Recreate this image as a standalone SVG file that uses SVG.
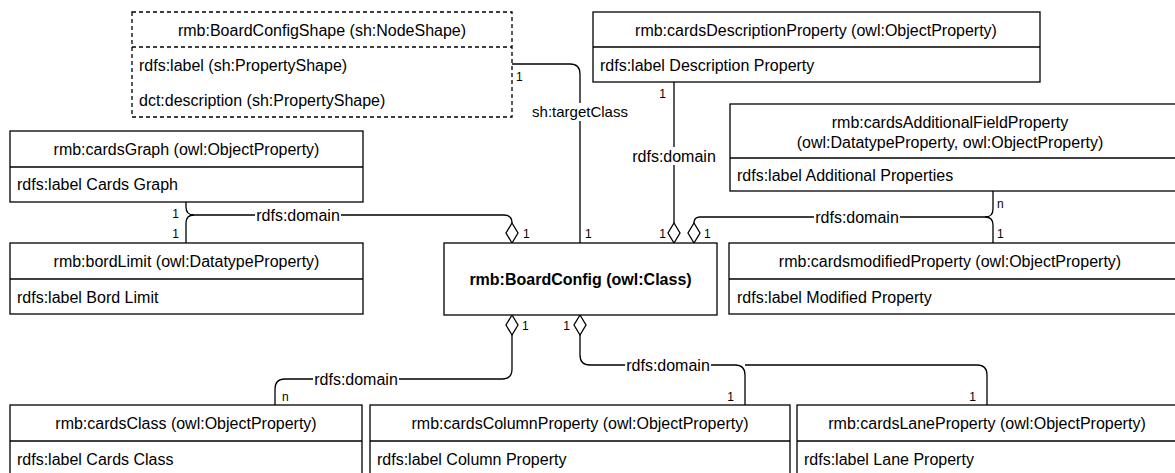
<svg xmlns="http://www.w3.org/2000/svg" width="1175" height="473" viewBox="0 0 1175 473">
<style>
text{font-family:"Liberation Sans",Arial,Helvetica,sans-serif;font-size:16px;fill:#000}
.c{text-anchor:middle}
.b{font-weight:bold}
.box{fill:#fff;stroke:#000;stroke-width:1.3}
.dash{fill:#fff;stroke:#000;stroke-width:1.3;stroke-dasharray:4 3}
.ln{fill:none;stroke:#000;stroke-width:1.3}
.edge{fill:none;stroke:#000;stroke-width:1.3}
.dia{fill:#fff;stroke:#000;stroke-width:1.3}
.bg{fill:#fff}
.m{font-size:12px}
.e{text-anchor:end}
</style>
<rect width="1175" height="473" fill="#fff"/>
<g id="connectors">
<path class="edge" d="M512,64 H570 Q580,64 580,74 V243"/>
<path class="edge" d="M674,82 V223"/>
<path class="edge" d="M186,202 V207 Q186,215 194,215 H504 Q512,215 512,223"/>
<path class="edge" d="M186,243 V223 Q186,215 194,215"/>
<path class="edge" d="M993,191 V209 Q993,217 985,217 H700 Q694,217 694,223"/>
<path class="edge" d="M993,243 V225 Q993,217 985,217"/>
<path class="edge" d="M512,335 V369 Q512,379 502,379 H285 Q275,379 275,389 V405"/>
<path class="edge" d="M580,335 V355 Q580,365 590,365 H735 Q745,365 745,375 V405"/>
<path class="edge" d="M745,365 H977 Q987,365 987,375 V405"/>
<polygon class="dia" points="512,223 518,233 512,243 506,233"/>
<polygon class="dia" points="674,223 680,233 674,243 668,233"/>
<polygon class="dia" points="694,223 700,233 694,243 688,233"/>
<polygon class="dia" points="512,315 518,325 512,335 506,325"/>
<polygon class="dia" points="580,315 586,325 580,335 574,325"/>
<rect class="bg" x="531" y="103" width="98" height="18"/>
<text class="c" x="580" y="117" style="font-size:15px">sh:targetClass</text>
<rect class="bg" x="631" y="147" width="86" height="18"/>
<text class="c" x="674" y="161.5">rdfs:domain</text>
<rect class="bg" x="255" y="206" width="86" height="18"/>
<text class="c" x="298" y="220.5">rdfs:domain</text>
<rect class="bg" x="814" y="208" width="86" height="18"/>
<text class="c" x="857" y="222.5">rdfs:domain</text>
<rect class="bg" x="313" y="370" width="86" height="18"/>
<text class="c" x="356" y="384.5">rdfs:domain</text>
<rect class="bg" x="625" y="356" width="86" height="18"/>
<text class="c" x="668" y="370.5">rdfs:domain</text>
<text class="m" x="516" y="81">1</text>
<text class="m" x="585" y="238">1</text>
<text class="m e" x="666" y="98">1</text>
<text class="m e" x="666" y="238">1</text>
<text class="m" x="704" y="238">1</text>
<text class="m e" x="179" y="218">1</text>
<text class="m e" x="179" y="238">1</text>
<text class="m" x="523" y="238">1</text>
<text class="m" x="997" y="208">n</text>
<text class="m" x="997" y="238">1</text>
<text class="m" x="522" y="330">1</text>
<text class="m e" x="570" y="330">1</text>
<text class="m" x="282" y="401">n</text>
<text class="m e" x="734" y="401">1</text>
<text class="m e" x="976" y="401">1</text>
</g>
<g id="boardConfigShape">
<rect class="dash" x="132" y="12" width="380" height="105"/>
<line class="ln" x1="132" y1="47" x2="512" y2="47" style="stroke-dasharray:4 3"/>
<text class="c" x="322" y="35.5">rmb:BoardConfigShape (sh:NodeShape)</text>
<text x="139" y="70.5">rdfs:label (sh:PropertyShape)</text>
<text x="139" y="105.5">dct:description (sh:PropertyShape)</text>
</g>
<g id="cardsDescriptionProperty">
<rect class="box" x="593" y="12" width="447" height="70"/>
<line class="ln" x1="593" y1="47" x2="1040" y2="47"/>
<text class="c" x="816" y="35.5">rmb:cardsDescriptionProperty (owl:ObjectProperty)</text>
<text x="600" y="70.5">rdfs:label Description Property</text>
</g>
<g id="cardsAdditionalFieldProperty">
<rect class="box" x="730" y="104" width="450" height="87"/>
<line class="ln" x1="730" y1="158" x2="1180" y2="158"/>
<text class="c" x="950" y="127.5">rmb:cardsAdditionalFieldProperty</text>
<text class="c" x="950" y="147.5">(owl:DatatypeProperty, owl:ObjectProperty)</text>
<text x="737" y="180.5">rdfs:label Additional Properties</text>
</g>
<g id="cardsGraph">
<rect class="box" x="10" y="131" width="353" height="71"/>
<line class="ln" x1="10" y1="167" x2="363" y2="167"/>
<text class="c" x="186.5" y="154.5">rmb:cardsGraph (owl:ObjectProperty)</text>
<text x="17" y="190">rdfs:label Cards Graph</text>
</g>
<g id="bordLimit">
<rect class="box" x="10" y="243" width="353" height="71"/>
<line class="ln" x1="10" y1="279" x2="363" y2="279"/>
<text class="c" x="186.5" y="266.5">rmb:bordLimit (owl:DatatypeProperty)</text>
<text x="17" y="302.5">rdfs:label Bord Limit</text>
</g>
<g id="boardConfig">
<rect class="box" x="444" y="243" width="273" height="72"/>
<text class="c b" x="580.5" y="284.5">rmb:BoardConfig (owl:Class)</text>
</g>
<g id="cardsmodifiedProperty">
<rect class="box" x="729" y="243" width="451" height="71"/>
<line class="ln" x1="729" y1="279" x2="1180" y2="279"/>
<text class="c" x="950" y="266.5">rmb:cardsmodifiedProperty (owl:ObjectProperty)</text>
<text x="737" y="302.5">rdfs:label Modified Property</text>
</g>
<g id="cardsClass">
<rect class="box" x="10" y="405" width="352" height="72"/>
<line class="ln" x1="10" y1="441" x2="362" y2="441"/>
<text class="c" x="186" y="428.5">rmb:cardsClass (owl:ObjectProperty)</text>
<text x="17" y="464.5">rdfs:label Cards Class</text>
</g>
<g id="cardsColumnProperty">
<rect class="box" x="370" y="405" width="420" height="72"/>
<line class="ln" x1="370" y1="441" x2="790" y2="441"/>
<text class="c" x="580" y="428.5">rmb:cardsColumnProperty (owl:ObjectProperty)</text>
<text x="377" y="464.5">rdfs:label Column Property</text>
</g>
<g id="cardsLaneProperty">
<rect class="box" x="797" y="405" width="383" height="72"/>
<line class="ln" x1="797" y1="441" x2="1180" y2="441"/>
<text class="c" x="987" y="428.5">rmb:cardsLaneProperty (owl:ObjectProperty)</text>
<text x="804" y="464.5">rdfs:label Lane Property</text>
</g>
</svg>
